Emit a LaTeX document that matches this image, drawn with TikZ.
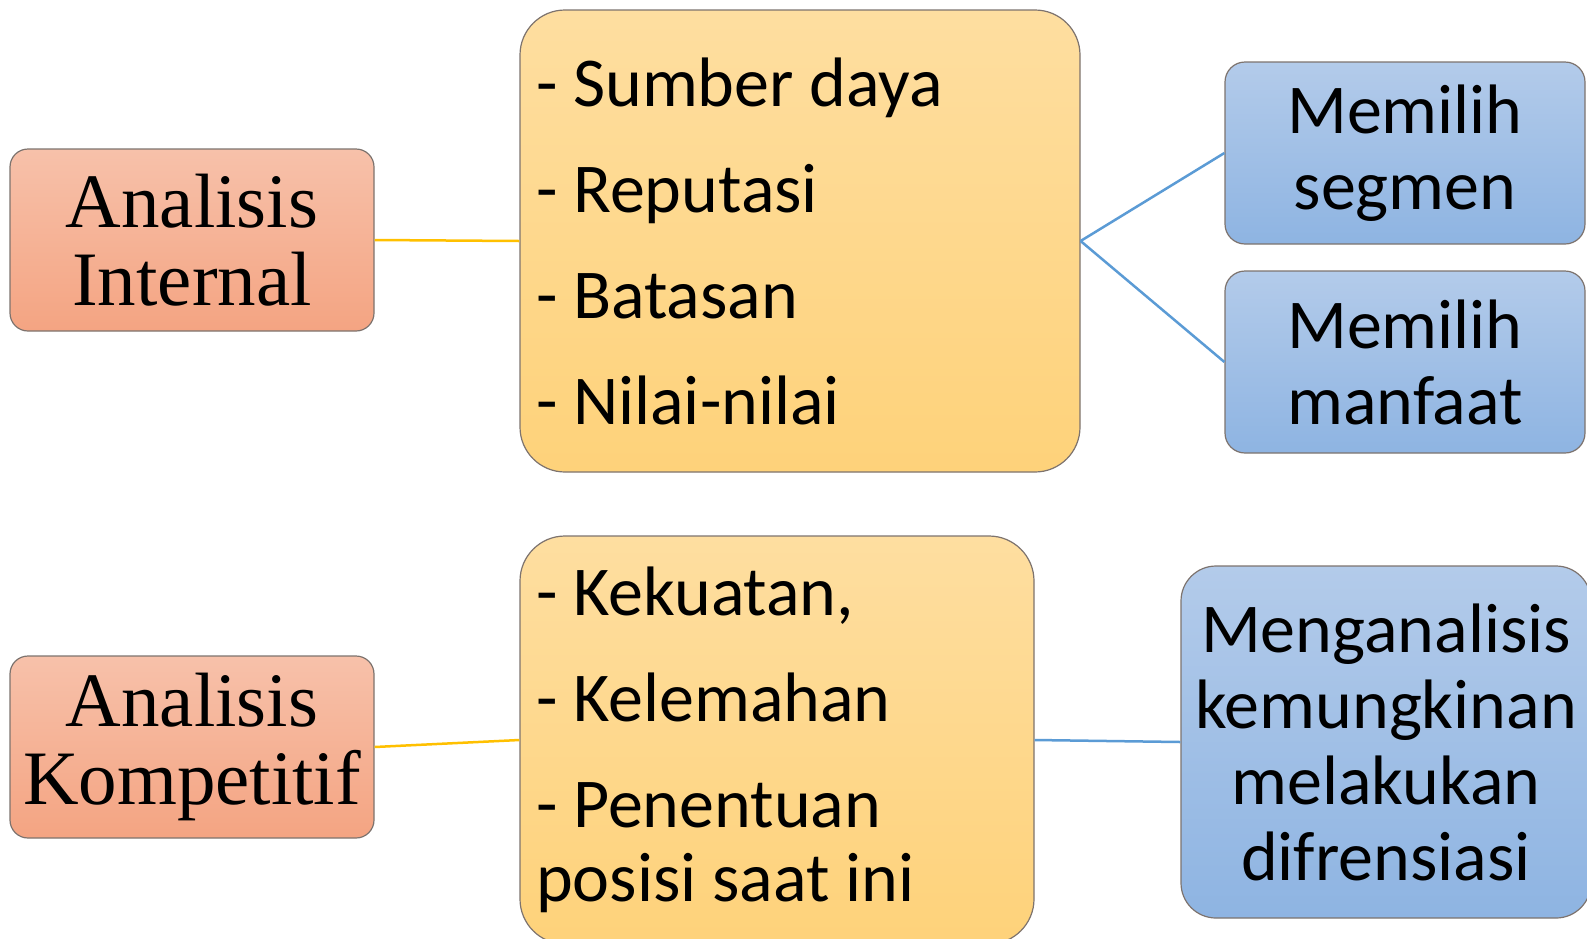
\documentclass[tikz,border=0pt]{standalone}
\usepackage{fontspec}
\setmainfont{Carlito}
\newfontfamily\judulfont{Liberation Serif}
\usepackage{xcolor}
\usetikzlibrary{positioning}

\definecolor{oranyeAtas}{RGB}{247,193,170}
\definecolor{oranyeBawah}{RGB}{244,164,130}
\definecolor{kuningAtas}{RGB}{254,222,160}
\definecolor{kuningBawah}{RGB}{254,210,122}
\definecolor{biruAtas}{RGB}{179,203,234}
\definecolor{biruBawah}{RGB}{142,180,226}
\definecolor{garisKuning}{RGB}{255,192,0}
\definecolor{garisBiru}{RGB}{91,155,213}
\definecolor{tepiBox}{RGB}{125,115,110}

\begin{document}
\begin{tikzpicture}[x=1pt, y=-1pt,
    analisis/.style={draw=tepiBox, line width=1.2pt, rounded corners=18pt,
        top color=oranyeAtas, bottom color=oranyeBawah,
        minimum width=364pt, minimum height=182pt, inner sep=2pt, align=center,
        font=\judulfont\fontsize{77}{78}\selectfont},
    daftar/.style={draw=tepiBox, line width=1.2pt, rounded corners=45pt,
        top color=kuningAtas, bottom color=kuningBawah,
        inner xsep=16pt, inner ysep=0pt, align=left,
        font=\fontsize{70}{74}\selectfont,
        execute at begin node={\spaceskip=0.226em\relax}},
    tujuan/.style={draw=tepiBox, line width=1.2pt, rounded corners=20pt,
        top color=biruAtas, bottom color=biruBawah,
        minimum height=182pt, inner sep=4pt, align=center,
        font=\fontsize{70}{76}\selectfont},
    hubung/.style={line width=2.5pt}]
    \useasboundingbox (0,0) rectangle (1587,938);

    % Analisis internal
    \node[analisis] (ai) at (192,240) {Analisis\\Internal};
    \node[daftar, minimum height=462pt, text width=528pt] (ib) at (800,241)
        {- Sumber daya\\[32pt]- Reputasi\\[32pt]- Batasan\\[32pt]- Nilai-nilai};
    \node[tujuan, minimum width=360pt] (seg) at (1405,153) {Memilih\\segmen};
    \node[tujuan, minimum width=360pt] (manf) at (1405,362) {Memilih\\manfaat};

    % Analisis kompetitif
    \node[analisis] (ak) at (192,747) {Analisis\\Kompetitif};
    \node[daftar, minimum height=408pt, text width=482pt] (cb) at (777,740)
        {- Kekuatan,\\[32pt]- Kelemahan\\[32pt]- Penentuan\\posisi saat ini};
    \node[tujuan, minimum width=410pt, minimum height=352pt, rounded corners=35pt] (mk) at (1386,742)
        {Menganalisis\\kemungkinan\\melakukan\\difrensiasi};

    % Connect nodes
    \draw[hubung, garisKuning] (ai.east) -- (ib.west);
    \draw[hubung, garisBiru] (ib.east) -- (seg.west);
    \draw[hubung, garisBiru] (ib.east) -- (manf.west);

    \draw[hubung, garisKuning] (ak.east) -- (cb.west);
    \draw[hubung, garisBiru] (cb.east) -- (mk.west);
\end{tikzpicture}
\end{document}
